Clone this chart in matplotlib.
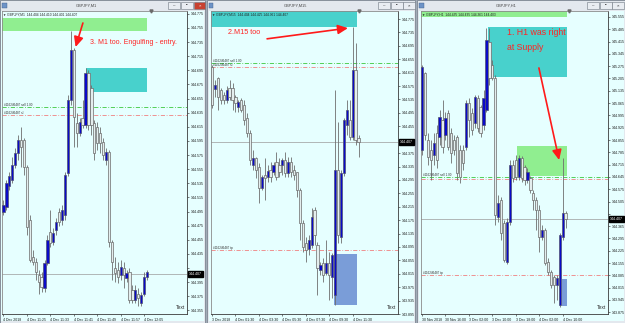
import numpy as np
import matplotlib
matplotlib.use('Agg')
import matplotlib.pyplot as plt
from matplotlib.patches import Rectangle
from matplotlib.transforms import blended_transform_factory

plt.rcParams['font.family'] = ['Liberation Sans', 'DejaVu Sans']

# ----------------------------------------------------------------- data
# GBPJPY M1
m1_open = [144.494, 144.501, 144.531, 144.540, 144.561, 144.578, 144.596, 144.596, 144.558, 144.483,
           144.431, 144.423, 144.405, 144.402, 144.387, 144.422, 144.466, 144.452, 144.469, 144.494,
           144.483, 144.490, 144.550, 144.653, 144.724, 144.621, 144.606, 144.628, 144.618, 144.691,
           144.670, 144.621, 144.615, 144.606, 144.594, 144.568, 144.579, 144.452, 144.415, 144.412,
           144.405, 144.415, 144.401, 144.409, 144.384, 144.370, 144.379, 144.365, 144.379, 144.402]
m1_close = [144.504, 144.535, 144.545, 144.561, 144.578, 144.596, 144.587, 144.558, 144.473, 144.426,
            144.423, 144.409, 144.395, 144.388, 144.422, 144.455, 144.450, 144.465, 144.480, 144.480,
            144.497, 144.547, 144.653, 144.724, 144.629, 144.606, 144.622, 144.618, 144.691, 144.618,
            144.618, 144.578, 144.592, 144.592, 144.575, 144.579, 144.452, 144.423, 144.408, 144.402,
            144.416, 144.405, 144.408, 144.370, 144.370, 144.384, 144.372, 144.377, 144.402, 144.409]
m1_high = [144.511, 144.540, 144.551, 144.572, 144.585, 144.604, 144.615, 144.599, 144.561, 144.490,
           144.440, 144.429, 144.412, 144.409, 144.426, 144.462, 144.497, 144.472, 144.486, 144.500,
           144.504, 144.551, 144.660, 144.751, 144.727, 144.635, 144.628, 144.653, 144.699, 144.696,
           144.674, 144.625, 144.622, 144.615, 144.599, 144.585, 144.582, 144.455, 144.431, 144.423,
           144.426, 144.423, 144.412, 144.415, 144.391, 144.391, 144.387, 144.381, 144.409, 144.412]
m1_low = [144.490, 144.497, 144.526, 144.535, 144.557, 144.568, 144.558, 144.547, 144.462, 144.423,
          144.419, 144.398, 144.379, 144.381, 144.381, 144.419, 144.445, 144.448, 144.462, 144.474,
          144.476, 144.483, 144.545, 144.646, 144.587, 144.587, 144.602, 144.613, 144.613, 144.611,
          144.604, 144.568, 144.582, 144.578, 144.568, 144.561, 144.445, 144.398, 144.395, 144.394,
          144.398, 144.387, 144.395, 144.365, 144.365, 144.365, 144.362, 144.361, 144.375, 144.398]

# GBPJPY M15
m15_open = [144.632, 144.566, 144.599, 144.563, 144.548, 144.533, 144.569, 144.569, 144.542, 144.513,
            144.533, 144.519, 144.480, 144.435, 144.339, 144.360, 144.333, 144.271, 144.310, 144.304,
            144.325, 144.319, 144.348, 144.339, 144.339, 144.354, 144.316, 144.348, 144.325, 144.319,
            144.265, 144.166, 144.107, 144.089, 144.101, 144.205, 144.101, 144.026, 144.047, 144.017,
            144.047, 144.005, 143.951, 144.325, 144.125, 144.316, 144.459, 144.474, 144.423, 144.623,
            144.420]
m15_close = [144.519, 144.578, 144.542, 144.533, 144.533, 144.563, 144.542, 144.533, 144.525, 144.527,
             144.504, 144.474, 144.435, 144.354, 144.360, 144.325, 144.271, 144.304, 144.301, 144.322,
             144.304, 144.339, 144.304, 144.319, 144.354, 144.316, 144.348, 144.319, 144.310, 144.265,
             144.166, 144.095, 144.086, 144.116, 144.184, 144.131, 144.032, 144.041, 144.011, 144.047,
             144.011, 144.071, 144.325, 144.131, 144.316, 144.474, 144.504, 144.423, 144.623, 144.414,
             144.408]
m15_high = [144.638, 144.593, 144.602, 144.569, 144.557, 144.575, 144.593, 144.584, 144.548, 144.533,
            144.539, 144.533, 144.495, 144.444, 144.384, 144.363, 144.345, 144.310, 144.360, 144.339,
            144.348, 144.348, 144.378, 144.360, 144.360, 144.378, 144.363, 144.363, 144.339, 144.319,
            144.271, 144.175, 144.125, 144.131, 144.211, 144.214, 144.110, 144.050, 144.062, 144.116,
            144.080, 144.077, 144.563, 144.468, 144.325, 144.480, 144.533, 144.533, 144.751, 144.704,
            144.429]
m15_low = [144.510, 144.542, 144.504, 144.522, 144.522, 144.525, 144.533, 144.504, 144.498, 144.498,
           144.498, 144.459, 144.423, 144.339, 144.325, 144.301, 144.226, 144.265, 144.235, 144.289,
           144.289, 144.310, 144.295, 144.304, 144.310, 144.304, 144.304, 144.304, 144.295, 144.244,
           144.116, 144.080, 144.050, 144.071, 144.092, 144.101, 143.951, 144.011, 143.990, 144.011,
           143.937, 143.942, 143.922, 144.107, 144.107, 144.307, 144.429, 144.414, 144.414, 144.399,
           144.363]

# GBPJPY H1
h1_open = [144.798, 145.237, 144.855, 144.798, 144.770, 144.895, 144.872, 144.969, 144.884, 145.009,
           144.895, 144.855, 144.872, 144.798, 144.798, 144.815, 145.066, 145.009, 144.952, 145.094,
           145.043, 144.941, 145.026, 145.413, 145.282, 145.208, 144.417, 144.514, 144.383, 144.161,
           144.389, 144.713, 144.741, 144.645, 144.753, 144.702, 144.628, 144.639, 144.554, 144.514,
           144.457, 144.303, 144.343, 144.161, 144.104, 144.076, 144.030, 143.916, 144.303, 144.440]
h1_close = [145.271, 144.884, 144.758, 144.741, 144.838, 144.741, 144.986, 144.815, 144.981, 144.815,
            144.781, 144.798, 144.667, 144.645, 144.724, 145.066, 144.969, 144.912, 145.100, 144.924,
            144.895, 145.094, 145.424, 145.208, 145.208, 144.428, 144.497, 144.326, 144.172, 144.389,
            144.713, 144.639, 144.645, 144.753, 144.639, 144.628, 144.673, 144.571, 144.514, 144.457,
            144.303, 144.343, 144.155, 144.104, 144.030, 144.030, 144.070, 144.315, 144.440, 144.406]
h1_high = [145.282, 145.242, 144.895, 144.855, 144.895, 144.941, 145.026, 145.083, 145.015, 145.026,
           144.924, 144.884, 144.884, 144.827, 144.827, 145.083, 145.094, 145.037, 145.111, 145.111,
           145.054, 145.140, 145.493, 145.493, 145.311, 145.225, 144.542, 144.531, 144.400, 144.411,
           144.741, 144.741, 144.770, 144.770, 144.764, 144.713, 144.696, 144.650, 144.571, 144.531,
           144.485, 144.372, 144.355, 144.184, 144.115, 144.087, 144.087, 144.326, 144.753, 144.451]
h1_low = [144.770, 144.855, 144.713, 144.628, 144.713, 144.696, 144.827, 144.781, 144.855, 144.798,
          144.724, 144.770, 144.628, 144.611, 144.685, 144.798, 144.872, 144.884, 144.924, 144.901,
          144.872, 144.912, 145.015, 145.168, 145.197, 144.372, 144.389, 144.286, 144.161, 144.150,
          144.372, 144.616, 144.628, 144.628, 144.616, 144.599, 144.611, 144.554, 144.457, 144.343,
          144.218, 144.286, 144.144, 144.087, 144.013, 143.928, 143.945, 143.905, 144.286, 144.355]

m1_times = ["4 Dec 2018", "4 Dec 11:25", "4 Dec 11:33", "4 Dec 11:41", "4 Dec 11:49", "4 Dec 11:57", "4 Dec 12:05"]
m15_times = ["3 Dec 2018", "4 Dec 01:30", "4 Dec 03:30", "4 Dec 05:30", "4 Dec 07:30", "4 Dec 09:30", "4 Dec 11:30"]
h1_times = ["30 Nov 2018", "30 Nov 16:00", "3 Dec 02:00", "3 Dec 10:00", "3 Dec 18:00", "4 Dec 02:00", "4 Dec 10:00"]

m1_ticks = [round(144.775 - 0.020 * k, 3) for k in range(22)]
m15_ticks = [round(144.775 - 0.040 * k, 3) for k in range(23)]
h1_ticks = [round(145.555 - 0.070 * k, 3) for k in range(25)]

entry_level = 144.643
sl_level = 144.632
tp_level = 144.085
bid_price = 144.407
ticket = "#116246487"

# zones: (index from, index to, price low, price high, colour)
m1_zones = [(-0.6, 49.0, 144.750, 144.769, '#90EE90'),
            (28.2, 49.0, 144.665, 144.699, '#48D1CC')]
m15_zones = [(-0.4, 49.5, 144.751, 144.800, '#48D1CC'),
             (41.6, 49.5, 143.922, 144.074, '#7A9DD8')]
h1_zones = [(-0.4, 49.5, 145.555, 145.590, '#90EE90'),
            (22.5, 49.5, 145.214, 145.498, '#48D1CC'),
            (32.4, 49.5, 144.650, 144.821, '#90EE90'),
            (47.8, 49.5, 143.911, 144.064, '#7A9DD8')]

# ---------------------------------------------------------------- layout
W, H = 625, 323
fig = plt.figure(figsize=(W / 100, H / 100), dpi=100)
fig.patch.set_facecolor('#a2acb8')


def frect(x, y, w, h, z=-5, **kw):
    fig.patches.append(Rectangle((x / W, 1 - (y + h) / H), w / W, h / H,
                                 transform=fig.transFigure, zorder=z, **kw))


def ftext(x, y, s, **kw):
    fig.text(x / W, 1 - y / H, s, **kw)


panels = [
    dict(win=(0, 205), plot=(2, 187), x0=3.5, title="GBPJPY,M1", tcx=86,
         header="▼ GBPJPY,M1  144.404 144.410 144.401 144.407",
         o=m1_open, h=m1_high, l=m1_low, c=m1_close, ylim=(144.350, 144.779),
         ticks=m1_ticks, times=m1_times, zones=m1_zones,
         levels=[(entry_level, '#3CC83C', 'sell 1.00'), (sl_level, '#F08080', 'sl')],
         arrow=((27.1, 144.762), (24.6, 144.728)),
         notes=[(29.5, 144.735, "3. M1 too. Engulfing - entry.", 5.0)],
         buttons=(168, 181, 194), active=True),
    dict(win=(207, 415), plot=(211, 398), x0=212, title="GBPJPY,M15", tcx=295,
         header="▼ GBPJPY,M15  144.404 144.425 144.361 144.407",
         o=m15_open, h=m15_high, l=m15_low, c=m15_close, ylim=(143.895, 144.799),
         ticks=m15_ticks, times=m15_times, zones=m15_zones,
         levels=[(entry_level, '#3CC83C', 'sell 1.00'), (sl_level, '#F08080', 'sl'),
                 (tp_level, '#F08080', 'tp')],
         arrow=((18.8, 144.716), (46.4, 144.748)),
         notes=[(5.5, 144.736, "2.M15 too", 5.2)],
         buttons=(378, 391, 403), active=False),
    dict(win=(417, 625), plot=(421, 608), x0=422, title="GBPJPY,H1", tcx=506,
         header="▼ GBPJPY,H1  144.435 144.435 144.361 144.403",
         o=h1_open, h=h1_high, l=h1_low, c=h1_close, ylim=(143.865, 145.589),
         ticks=h1_ticks, times=h1_times, zones=h1_zones,
         levels=[(entry_level, '#3CC83C', 'sell 1.00'), (sl_level, '#F08080', None),
                 (tp_level, '#F08080', 'tp')],
         arrow=((39.9, 145.265), (46.8, 144.741)),
         notes=[(29.0, 145.464, "1. H1 was right", 6.3), (29.0, 145.384, "at Supply", 6.3)],
         buttons=(587, 600, 612), active=False),
]

SP = 2.93  # pixel spacing of candles
PLOT_TOP, PLOT_BOT = 11, 314

for p in panels:
    wx0, wx1 = p['win']
    # window frame
    frect(wx0, 0, wx1 - wx0, H, facecolor='#e3e8ee', edgecolor='#7d8692', lw=0.6)
    frect(wx0 + 1.5, 11, wx1 - wx0 - 3, 310, facecolor='#e6ffff', edgecolor='none')
    frect(wx0 + 2, 2.5, 4.5, 5.5, facecolor='#6d93c7', edgecolor='#40608a', lw=0.3)
    ftext(p['tcx'], 5.5, p['title'], fontsize=2.8, color='#444444', ha='center', va='center')
    for k, bx in enumerate(p['buttons']):
        red = p['active'] and k == 2
        frect(bx, 2, 11.5, 6.5, facecolor='#c8412f' if red else '#e9edf2',
              edgecolor='#6f7781', lw=0.4)
        ftext(bx + 5.75, 5.4, ['–', '▪', '×'][k], fontsize=3.2,
              color='white' if red else '#202020', ha='center', va='center')

    L, R = p['plot']
    ax = fig.add_axes([L / W, 1 - PLOT_BOT / H, (R - L) / W, (PLOT_BOT - PLOT_TOP) / H])
    ax.set_facecolor('#e6ffff')
    ax.set_xlim((L - p['x0']) / SP, (R - p['x0']) / SP)
    ax.set_ylim(*p['ylim'])
    for side in ['top', 'left']:
        ax.spines[side].set_color('#8a8a8a')
        ax.spines[side].set_linewidth(0.6)
    for side in ['right', 'bottom']:
        ax.spines[side].set_color('#3a3a3a')
        ax.spines[side].set_linewidth(0.6)

    # price scale (the bid box hides the label it covers)
    step = abs(p['ticks'][1] - p['ticks'][0])
    ax.yaxis.tick_right()
    ax.set_yticks(p['ticks'])
    ax.set_yticklabels(['' if abs(t - bid_price) < 0.55 * step else '%.3f' % t
                        for t in p['ticks']])
    ax.tick_params(axis='y', length=1.5, width=0.4, labelsize=2.6, pad=1.2,
                   colors='#1a1a1a')
    ax.set_xticks(list(range(0, 8 * len(p['times']), 8)))
    ax.set_xticklabels(p['times'])
    ax.tick_params(axis='x', length=1.5, width=0.4, labelsize=2.5, pad=1.2,
                   colors='#1a1a1a')
    for lbl in ax.get_xticklabels():
        lbl.set_horizontalalignment('left')

    # zones
    for (za, zb, plo, phi, col) in p['zones']:
        ax.add_patch(Rectangle((za, plo), zb - za, phi - plo, facecolor=col,
                               edgecolor='none', zorder=1))

    # order levels
    for lev, col, tag in p['levels']:
        ax.axhline(lev, color=col, lw=0.6, ls=(0, (5, 2, 1, 2)), zorder=2)
        if tag:
            ax.text(0.3, lev, ticket + ' ' + tag, fontsize=2.2, color='#303030',
                    va='bottom', ha='left', zorder=6)

    # bid line
    ax.axhline(bid_price, color='#9a9a9a', lw=0.5, zorder=2)
    tr = blended_transform_factory(ax.transAxes, ax.transData)
    ax.text(1.01, bid_price, '%.3f' % bid_price, transform=tr, fontsize=2.6,
            color='white', va='center', ha='left', clip_on=False, zorder=7,
            bbox=dict(boxstyle='square,pad=0.25', fc='black', ec='black'))

    # candles
    o, hi, lo, c = p['o'], p['h'], p['l'], p['c']
    n = len(o)
    xs = np.arange(n)
    ax.vlines(xs, lo, hi, color='#6e6e6e', lw=0.6, zorder=3)
    for i in range(n):
        bottom = min(o[i], c[i])
        height = max(abs(c[i] - o[i]), (p['ylim'][1] - p['ylim'][0]) * 0.004)
        if c[i] >= o[i]:
            fc, ec = '#0a0ac8', '#505070'
        else:
            fc, ec = '#e4eeee', '#6a6a6a'
        ax.add_patch(Rectangle((i - 0.38, bottom), 0.76, height, facecolor=fc,
                               edgecolor=ec, lw=0.5, zorder=4))

    # header and misc
    ax.text(0.006, 0.995, p['header'], transform=ax.transAxes, fontsize=2.3,
            color='#202020', va='top', ha='left', zorder=7)
    ax.text(0.988, 0.012, 'Text', transform=ax.transAxes, fontsize=3.6,
            color='#303030', va='bottom', ha='right', zorder=7)
    ax.plot([50.3], [p['ylim'][1]], marker='v', ms=2.2, color='#6a6a6a',
            clip_on=False, zorder=7)

    # arrow and notes
    (tx, ty), (hx, hy) = p['arrow']
    ax.annotate('', xy=(hx, hy), xytext=(tx, ty), zorder=8,
                arrowprops=dict(arrowstyle='-|>,head_length=0.6,head_width=0.28',
                                color='#ff1a1a', lw=1.2, shrinkA=0, shrinkB=0))
    for (nx, ny, s, fs) in p['notes']:
        ax.text(nx, ny, s, color='#ff2424', fontsize=fs, va='center', ha='left', zorder=8)

fig.savefig('out.png', dpi=100, facecolor=fig.get_facecolor())
